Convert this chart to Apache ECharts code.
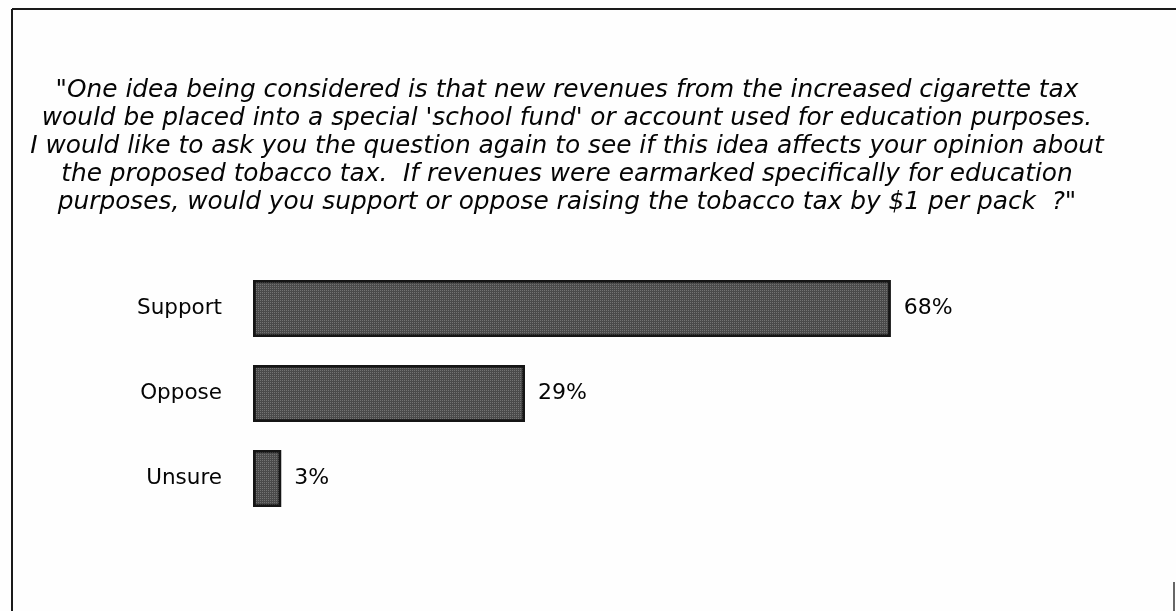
<!DOCTYPE html>
<html>
<head>
<meta charset="utf-8">
<script src="https://cdn.jsdelivr.net/npm/echarts@6/dist/echarts.min.js"></script>
<style>
  html, body { margin: 0; padding: 0; background: #fefefe; }
  #chart { width: 1176px; height: 611px; }
</style>
</head>
<body>
<div id="chart"></div>
<script>
// Survey question and responses
const questionLines = [
  '"One idea being considered is that new revenues from the increased cigarette tax',
  "would be placed into a special 'school fund' or account used for education purposes.",
  'I would like to ask you the question again to see if this idea affects your opinion about',
  'the proposed tobacco tax.  If revenues were earmarked specifically for education',
  'purposes, would you support or oppose raising the tobacco tax by $1 per pack  ?"'
];
const categories = ['Support', 'Oppose', 'Unsure'];
const percentages = [68, 29, 3];

const chart = echarts.init(document.getElementById('chart'));

chart.setOption({
  backgroundColor: '#fefefe',
  animation: false,
  title: {
    text: questionLines.join('\n'),
    left: 562,
    top: 72,
    textAlign: 'center',
    textStyle: {
      fontFamily: 'DejaVu Sans',
      fontStyle: 'italic',
      fontWeight: 'normal',
      fontSize: 24.8,
      lineHeight: 28,
      color: '#050505'
    }
  },
  grid: { left: 253, right: 79, top: 266, height: 255 },
  xAxis: {
    type: 'value',
    min: 0,
    max: 90,
    show: false
  },
  yAxis: {
    type: 'category',
    data: categories,
    inverse: true,
    axisLine: { show: false },
    axisTick: { show: false },
    axisLabel: {
      margin: 31,
      fontFamily: 'DejaVu Sans',
      fontSize: 21.5,
      color: '#050505'
    }
  },
  series: [{
    type: 'bar',
    data: percentages,
    barWidth: 57,
    itemStyle: {
      color: '#4a4a4a',
      borderColor: '#151515',
      borderWidth: 2.5,
      decal: {
        symbol: 'rect',
        symbolSize: 1,
        dashArrayX: [1, 1],
        dashArrayY: [1, 1],
        color: 'rgba(150,150,150,0.55)'
      }
    },
    label: {
      show: true,
      position: 'right',
      distance: 13,
      formatter: '{c}%',
      fontFamily: 'DejaVu Sans',
      fontSize: 22,
      color: '#050505'
    }
  }],
  graphic: [
    { type: 'line', shape: { x1: 12, y1: 9, x2: 1176, y2: 9 }, style: { stroke: '#1a1a1a', lineWidth: 2 } },
    { type: 'line', shape: { x1: 12, y1: 9, x2: 12, y2: 611 }, style: { stroke: '#1a1a1a', lineWidth: 2 } },
    { type: 'line', shape: { x1: 1174, y1: 582, x2: 1174, y2: 611 }, style: { stroke: '#333', lineWidth: 1.5 } }
  ]
});
</script>
</body>
</html>
